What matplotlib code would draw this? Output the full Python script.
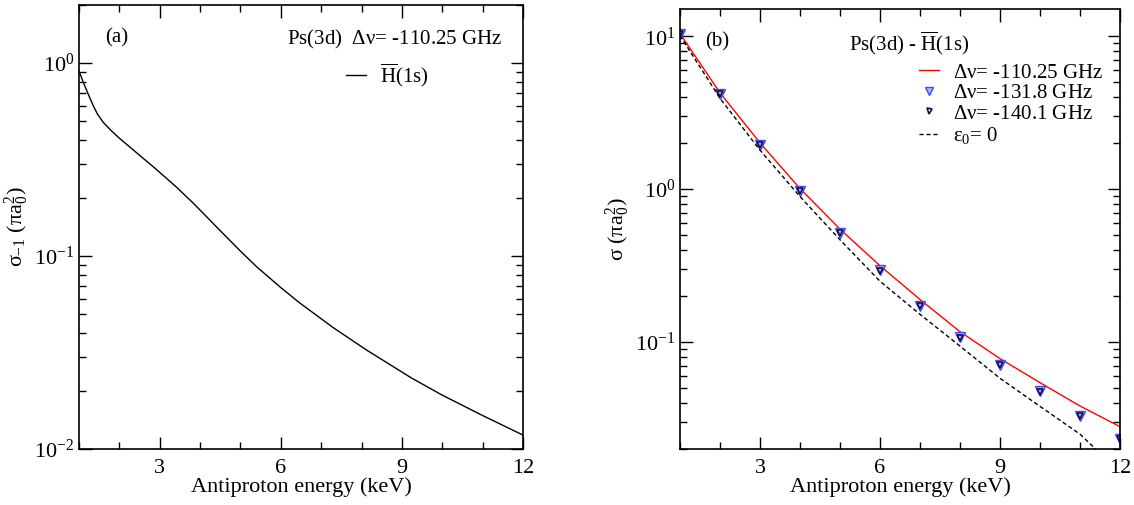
import matplotlib
matplotlib.use("Agg")
import matplotlib.pyplot as plt
from matplotlib.ticker import FixedLocator, LogLocator, NullFormatter, LogFormatterSciNotation

plt.rcParams['font.family'] = ['Liberation Serif', 'DejaVu Serif']
# upright greek / roman letters in math, like the original (Times-like)
plt.rcParams['mathtext.fontset'] = 'custom'
plt.rcParams['mathtext.rm'] = 'Liberation Serif'
plt.rcParams['mathtext.it'] = 'Liberation Serif'
plt.rcParams['mathtext.bf'] = 'Liberation Serif:bold'

# panel (a): Ps(3d) + Hbar(1s), sigma_-1
energy_a = [1.0, 1.1, 1.215, 1.355, 1.45, 1.6, 1.8, 2.0, 2.15, 2.5, 2.9, 3.4, 3.83,
            4.58, 5.0, 5.4, 6.0, 6.45, 7.3, 8.13, 9.24, 10, 11, 12]
sigma_a = [0.91, 0.80, 0.70, 0.60, 0.547, 0.493, 0.446, 0.408, 0.384, 0.333, 0.283,
           0.229, 0.188, 0.130, 0.106, 0.088, 0.0686, 0.0575, 0.0425, 0.0325, 0.0233,
           0.0190, 0.0149, 0.0118]

# panel (b): total cross sections
energy_b = [1, 2, 3, 4, 5, 6, 7, 8, 9, 10, 11, 12]
sigma_110 = [10.4, 4.27, 2.01, 1.01, 0.548, 0.316, 0.190, 0.117, 0.078, 0.0543, 0.0382, 0.0280]
sigma_131 = [10.4, 4.19, 1.95, 0.975, 0.519, 0.295, 0.173, 0.108, 0.0707, 0.0476, 0.033, 0.0233]
sigma_140 = [10.4, 4.17, 1.94, 0.97, 0.515, 0.292, 0.172, 0.107, 0.0703, 0.0473, 0.0328, 0.0231]
energy_e0 = [1, 2, 3, 4, 5, 6, 7, 8, 9, 10, 11, 11.5]
sigma_e0 = [10.1, 3.93, 1.80, 0.895, 0.467, 0.25, 0.152, 0.0942, 0.058, 0.038, 0.025, 0.0188]

fig = plt.figure(figsize=(11.34, 5.05), dpi=100)
ax1 = fig.add_axes([0.0697, 0.111, 0.3915, 0.879])
ax2 = fig.add_axes([0.5996, 0.111, 0.388, 0.8706])


def style(ax, ylim):
    ax.set_yscale('log')
    ax.set_xlim(1, 12)
    ax.set_ylim(*ylim)
    ax.xaxis.set_major_locator(FixedLocator([3, 6, 9, 12]))
    ax.xaxis.set_minor_locator(FixedLocator([1, 2, 4, 5, 7, 8, 10, 11]))
    ax.yaxis.set_major_locator(LogLocator(base=10))
    ax.yaxis.set_minor_locator(LogLocator(base=10, subs=range(2, 10)))
    ax.yaxis.set_minor_formatter(NullFormatter())
    ax.yaxis.set_major_formatter(LogFormatterSciNotation())
    ax.tick_params(which='both', direction='in', top=True, right=True, labelsize=16, width=1)
    ax.tick_params(which='major', length=9)
    ax.tick_params(which='minor', length=5)
    ax.tick_params(axis='x', pad=7)
    for s in ax.spines.values():
        s.set_linewidth(1.2)
    ax.set_xlabel("Antiproton energy (keV)", fontsize=16, labelpad=0)


# (a)
ax1.plot(energy_a, sigma_a, color='black', lw=1.0, label=r'$\overline{\rm H}$(1s)')
style(ax1, (0.01, 2.0))
ax1.set_ylabel(r'$\sigma_{-1}$ ($\pi a_0^2$)', fontsize=16, labelpad=2)
ax1.text(0.059, 0.926, '(a)', transform=ax1.transAxes, fontsize=15, va='center')
ax1.text(0.953, 0.922, r'Ps(3d)  $\Delta\nu$= -110.25 GHz', transform=ax1.transAxes,
         fontsize=15, ha='right', va='center')
ax1.legend(loc='upper left', bbox_to_anchor=(0.601, 0.872), frameon=False, fontsize=15,
           handlelength=0.95, handletextpad=0.7, borderpad=0, borderaxespad=0)

# (b)
ax2.plot(energy_b, sigma_110, color='red', lw=1.0, label=r'$\Delta\nu$= -110.25 GHz')
ax2.plot(energy_b, sigma_131, ls='none', marker='v', ms=7, mfc='#aab4ff', mec='#3b4cff',
         mew=1.0, label=r'$\Delta\nu$= -131.8 GHz')
ax2.plot(energy_b, sigma_140, ls='none', marker='v', ms=4.5, mfc='none', mec='#1a0d40',
         mew=1.2, label=r'$\Delta\nu$= -140.1 GHz')
ax2.plot(energy_e0, sigma_e0, color='black', lw=1.0, ls=(0, (3, 2)), label=r'$\varepsilon_0$= 0')
style(ax2, (0.02, 15))
ax2.set_ylabel(r'$\sigma$ ($\pi a_0^2$)', fontsize=16, labelpad=2)
ax2.text(0.057, 0.926, '(b)', transform=ax2.transAxes, fontsize=15, va='center')
ax2.text(0.522, 0.922, r'Ps(3d) - $\overline{\rm H}$(1s)', transform=ax2.transAxes,
         fontsize=15, ha='center', va='center')
ax2.legend(loc='upper left', bbox_to_anchor=(0.543, 0.878), frameon=False, fontsize=15,
           handlelength=0.95, handletextpad=0.7, labelspacing=0.05, borderpad=0,
           borderaxespad=0, markerscale=0.8)

plt.savefig('out.png', dpi=100)
